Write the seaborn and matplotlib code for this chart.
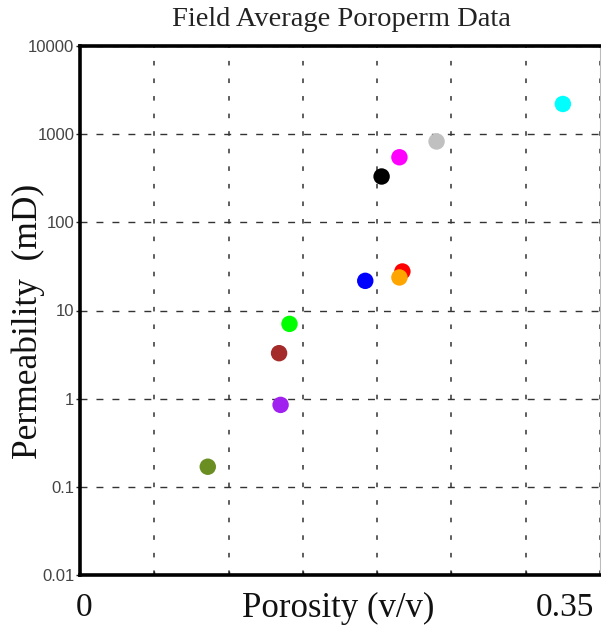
import matplotlib
matplotlib.use("Agg")
import matplotlib.pyplot as plt
import seaborn as sns
import pandas as pd

# ---- data ----
wells = ["olive", "purple", "brown", "green", "blue", "red", "orange",
         "black", "magenta", "grey", "cyan"]
porosity = [0.086, 0.135, 0.134, 0.141, 0.192, 0.217, 0.215,
            0.203, 0.215, 0.240, 0.325]
permeability = [0.169, 0.85, 3.28, 7.05, 21.7, 27.7, 23.7,
                331, 547, 826, 2200]
colors = ["#6B8E23", "#A020F0", "#A52A2A", "#00FF00", "#0000FF", "#FF0000",
          "#FFA500", "#000000", "#FF00FF", "#C0C0C0", "#00FFFF"]
yticks = [0.01, 0.1, 1, 10, 100, 1000, 10000]
yticklabels = ["0.01", "0.1", "1", "10", "100", "1000", "10000"]
xticks = [0, 0.05, 0.10, 0.15, 0.20, 0.25, 0.30, 0.35]

df = pd.DataFrame({"well": wells, "phi": porosity, "k": permeability})

sns.set_theme(style="white")
plt.rcParams["font.family"] = ["Liberation Serif", "DejaVu Serif"]

fig = plt.figure(figsize=(6.01, 6.28), dpi=100)
ax = fig.add_axes([80 / 601, 53 / 628, 520 / 601, 529 / 628])

sns.scatterplot(data=df, x="phi", y="k", hue="well",
                palette=dict(zip(wells, colors)), s=140, linewidth=0,
                legend=False, ax=ax, zorder=3)

ax.set_yscale("log")
ax.set_xlim(0, 0.35)
ax.set_ylim(0.01, 10000)
ax.set_xticks(xticks)
ax.set_xticklabels([])
ax.set_yticks(yticks)
ax.set_yticklabels(yticklabels, family="Liberation Sans", fontsize=12,
                   color="#444444")
ax.minorticks_off()
ax.tick_params(axis="y", direction="out", length=3, width=1, color="#222222",
               pad=1, left=True)
ax.tick_params(axis="x", direction="in", length=3, width=1, color="#222222",
               bottom=True)

ax.xaxis.grid(True, color="#333333", linewidth=1.1, linestyle=(0, (3.0, 8.5)))
ax.yaxis.grid(True, color="#333333", linewidth=1.0, linestyle=(0, (5, 6.5)))
ax.set_axisbelow(True)

for side in ["left", "top", "bottom"]:
    ax.spines[side].set_color("black")
    ax.spines[side].set_linewidth(2.6)
ax.spines["right"].set_color("#bbbbbb")
ax.spines["right"].set_linewidth(0.8)

ax.set_xlabel("")
ax.set_ylabel("Permeability  (mD)", fontsize=25.5, color="#111111")
ax.yaxis.set_label_coords(-0.1, 0.48)
ax.yaxis.label.set_va("center")

fig.text(341 / 601, 1 - 20 / 628, "Field Average Poroperm Data",
         ha="center", va="center", fontsize=20.5, color="#222222")
fig.text(338 / 601, 1 - 608 / 628, "Porosity (v/v)", ha="center",
         va="center", fontsize=25, color="#111111")
fig.text(84 / 601, 1 - 608 / 628, "0", ha="center", va="center",
         fontsize=24, color="#111111")
fig.text(565 / 601, 1 - 608 / 628, "0.35", ha="center", va="center",
         fontsize=24, color="#111111")

fig.savefig("out.png", dpi=100)
